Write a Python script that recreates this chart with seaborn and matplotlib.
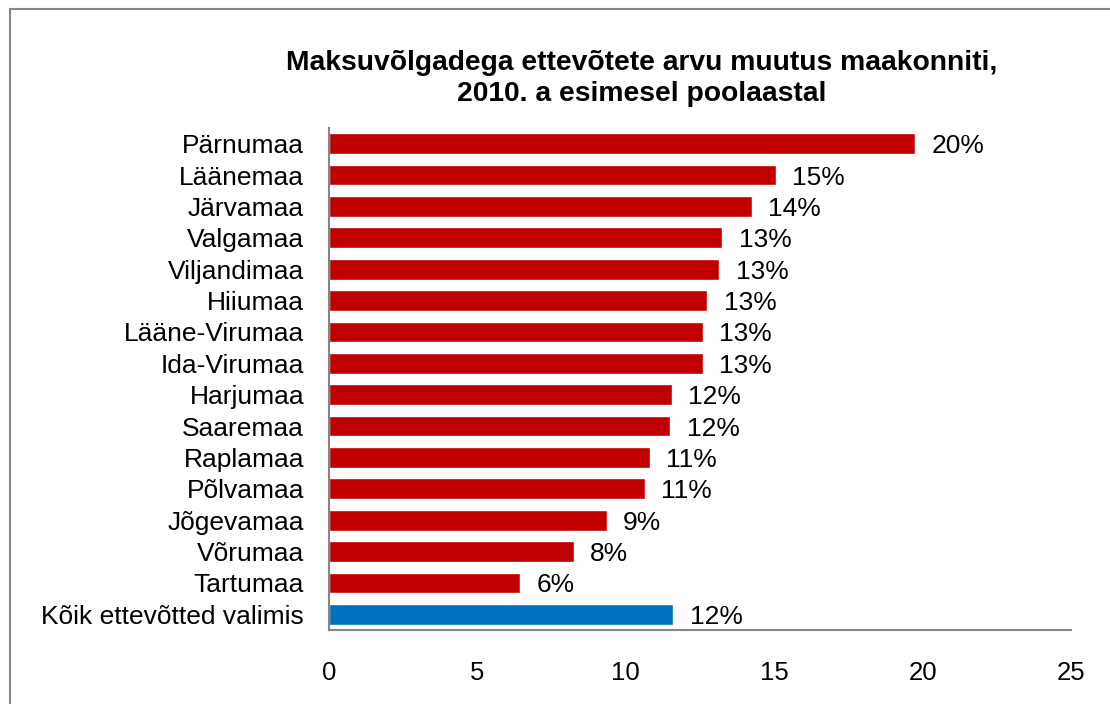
import pandas as pd
import matplotlib.pyplot as plt
import seaborn as sns
from matplotlib.patches import Rectangle

maakonnad = ["Pärnumaa", "Läänemaa", "Järvamaa", "Valgamaa", "Viljandimaa", "Hiiumaa",
             "Lääne-Virumaa", "Ida-Virumaa", "Harjumaa", "Saaremaa", "Raplamaa",
             "Põlvamaa", "Jõgevamaa", "Võrumaa", "Tartumaa", "Kõik ettevõtted valimis"]
muutus = [19.75, 15.05, 14.25, 13.25, 13.15, 12.75, 12.6, 12.6, 11.55, 11.5, 10.8,
          10.65, 9.35, 8.25, 6.45, 11.6]
sildid = ["20%", "15%", "14%", "13%", "13%", "13%", "13%", "13%", "12%", "12%", "11%",
          "11%", "9%", "8%", "6%", "12%"]
x_ticks = [0, 5, 10, 15, 20, 25]

df = pd.DataFrame({"maakond": maakonnad, "muutus": muutus})
varvid = ["#C00000"] * (len(maakonnad) - 1) + ["#0070C0"]

sns.set_style("white")
plt.rcParams["font.family"] = ["Liberation Sans", "DejaVu Sans"]
plt.rcParams["text.color"] = "black"
plt.rcParams["xtick.color"] = "black"
plt.rcParams["ytick.color"] = "black"

fig = plt.figure(figsize=(11.1, 7.04), dpi=100)
ax = fig.add_axes([329 / 1110, 1 - 630 / 704, 742 / 1110, 502 / 704])

sns.barplot(data=df, x="muutus", y="maakond", hue="maakond", palette=varvid,
            legend=False, width=0.66, ax=ax, saturation=1)

for i, (v, s) in enumerate(zip(muutus, sildid)):
    ax.text(v + 0.55, i + 0.08, s, va="center", ha="left", fontsize=19, color="black")

ax.set_xlim(0, 25)
ax.set_ylim(len(maakonnad) - 0.5, -0.5)
ax.set_xticks(x_ticks)
ax.set_xticklabels([str(t) for t in x_ticks], fontsize=18.5)
ax.tick_params(axis="x", length=0, pad=22)
ax.tick_params(axis="y", length=0, pad=18, labelsize=19)
ax.set_xlabel("")
ax.set_ylabel("")
for side in ["top", "right"]:
    ax.spines[side].set_visible(False)
for side in ["left", "bottom"]:
    ax.spines[side].set_color("#868686")
    ax.spines[side].set_linewidth(1.5)

fig.text(0.578, 0.889, "Maksuvõlgadega ettevõtete arvu muutus maakonniti,\n2010. a esimesel poolaastal",
         ha="center", va="center", fontsize=20.3, fontweight="bold", linespacing=1.25,
         color="black")

fig.patches.append(Rectangle((10 / 1110, -0.05), 1.1, 1 - 9 / 704 + 0.05,
                             transform=fig.transFigure, fill=False,
                             edgecolor="#868686", linewidth=1.5))

fig.savefig("out.png", dpi=100)
